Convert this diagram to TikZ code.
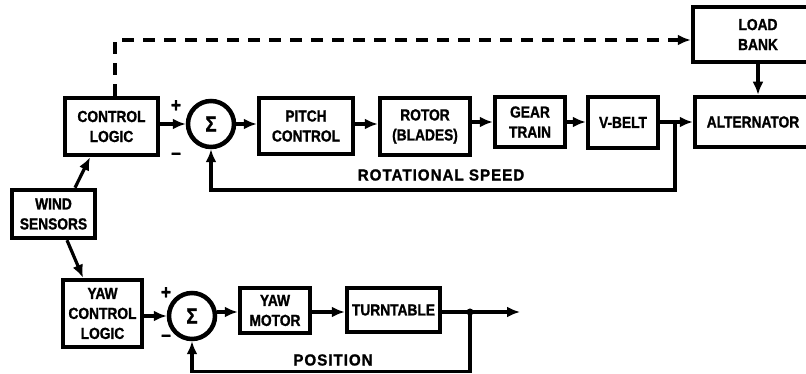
\documentclass[tikz,border=0pt]{standalone}
\usepackage{fontspec}
\setmainfont{Liberation Sans}[FakeStretch=0.86,BoldFeatures={FakeBold=1.2}]
\newfontfamily\widefont{Liberation Sans}[FakeStretch=0.95,LetterSpace=6,BoldFeatures={FakeBold=1.2}]
\usetikzlibrary{arrows.meta,calc}
\begin{document}
\begin{tikzpicture}[x=1pt,y=1pt,
  blk/.style={draw,line width=4.5pt,rectangle,inner sep=0pt,align=center,
    font=\fontsize{16}{20}\selectfont\bfseries},
  sumnode/.style={draw,line width=4.5pt,circle,minimum size=46pt,inner sep=0pt,
    font=\fontsize{22}{22}\selectfont\bfseries},
  arr/.style={line width=3.2pt,-{Latex[length=13pt,width=11pt]}},
  dsh/.style={line width=3.5pt,dash pattern=on 12pt off 9pt},
  lbl/.style={font=\widefont\fontsize{16}{20}\selectfont\bfseries,inner sep=0pt},
  sgn/.style={font=\fontsize{20}{20}\selectfont\bfseries,inner sep=0pt}]
\path[use as bounding box,clip] (0,0) rectangle (806,374);
% top row
\node[blk,minimum width=93pt,minimum height=57pt] (cl) at (111.5,247.5) {CONTROL\\LOGIC};
\node[sumnode] (s1) at (211,250) {Σ};
\node[blk,minimum width=94pt,minimum height=56pt] (pc) at (306,248) {PITCH\\CONTROL};
\node[blk,minimum width=90pt,minimum height=57pt] (rotor) at (425,247.5) {ROTOR\\(BLADES)};
\node[blk,minimum width=70pt,minimum height=50pt] (gear) at (530,252) {GEAR\\TRAIN};
\node[blk,minimum width=70pt,minimum height=51pt] (vbelt) at (623,251.5) {V-BELT};
\node[blk,minimum width=116pt,minimum height=50pt] (alt) at (753,252) {ALTERNATOR};
\node[blk,minimum width=130pt,minimum height=55pt] (load) at (758,339.5) {LOAD\\BANK};
% bottom row
\node[blk,minimum width=83pt,minimum height=48pt] (ws) at (53.5,160) {WIND\\SENSORS};
\node[blk,minimum width=79pt,minimum height=67pt] (ycl) at (102.5,60.5) {YAW\\CONTROL\\LOGIC};
\node[sumnode] (s2) at (192,58) {Σ};
\node[blk,minimum width=70pt,minimum height=45pt] (ym) at (275,63.5) {YAW\\MOTOR};
\node[blk,minimum width=93pt,minimum height=44pt] (tt) at (393.5,64) {TURNTABLE};
% helper coordinates
\coordinate (dtop) at (115,334);
\coordinate (j1) at (675,252);
\coordinate (fb1) at (0,184);
\coordinate (j2) at (470,62);
\coordinate (out) at (520,62);
\coordinate (fb2) at (0,2.5);
% top connectors
\draw[arr] (cl.east |- s1) -- (s1.west);
\draw[arr] (s1.east) -- (s1 -| pc.west);
\draw[arr] (pc.east |- s1) -- (rotor.west |- s1);
\draw[arr] (rotor.east |- gear) -- (gear.west);
\draw[arr] (gear.east) -- (gear -| vbelt.west);
\draw[arr] (vbelt.east |- alt) -- (alt.west);
\draw[arr] (load.south) -- (load.south |- alt.north);
\draw[dsh] (cl.north -| dtop) -- (dtop) -- ($(load.west |- dtop)+(-14,0)$);
\draw[arr] ($(load.west |- dtop)+(-14,0)$) -- (load.west |- dtop);
\draw[arr] (j1) |- (s1.south |- fb1) -- (s1.south);
\node[lbl] (rs) at (441,199) {ROTATIONAL SPEED};
\node[sgn] (p1) at (176,268) {+};
\node[sgn] (m1) at (176,218) {\textendash};
% sensors
\draw[arr] ([xshift=21.5pt]ws.north) -- ([xshift=-21.5pt]cl.south);
\draw[arr] ([xshift=13.5pt]ws.south) -- ([xshift=-19.5pt]ycl.north);
% bottom connectors
\draw[arr] (ycl.east |- s2) -- (s2.west);
\draw[arr] (s2.east |- j2) -- (ym.west |- j2);
\draw[arr] (ym.east |- j2) -- (tt.west |- j2);
\draw[arr] (tt.east |- j2) -- (out);
\fill (j2) circle (3.5pt);
\draw[arr] (j2) |- (s2.south |- fb2) -- (s2.south);
\node[lbl] (pos) at (333,14) {POSITION};
\node[sgn] (p2) at (166,81) {+};
\node[sgn] (m2) at (166,36) {\textendash};
\end{tikzpicture}
\end{document}
